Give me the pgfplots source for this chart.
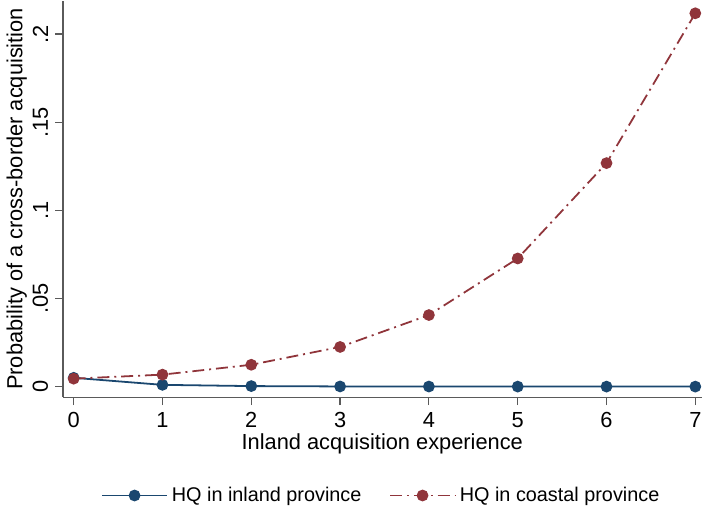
\documentclass[border=0pt]{standalone}
\usepackage{pgfplots}
\pgfplotsset{compat=1.18}
\usepackage{fontspec}
\setmainfont{Liberation Sans}
\definecolor{snavy}{RGB}{26,71,111}
\definecolor{smaroon}{RGB}{144,53,59}
\definecolor{axgray}{RGB}{90,90,90}
\begin{document}
\begin{tikzpicture}
\begin{axis}[
  scale only axis,
  width=322pt, height=200pt,
  xmin=-0.12, xmax=7.07,
  ymin=-0.006, ymax=0.219,
  axis x line*=bottom, axis y line*=left,
  axis line style={axgray, line width=0.6pt},
  tick align=outside,
  major tick length=4pt,
  tick style={axgray, line width=0.6pt},
  xtick={0,1,2,3,4,5,6,7},
  ytick={0,0.05,0.1,0.15,0.2},
  yticklabels={0,.05,.1,.15,.2},
  yticklabel style={rotate=90, anchor=south, font=\fontsize{11}{13}\selectfont},
  xticklabel style={font=\fontsize{11}{13}\selectfont},
  /pgf/number format/assume math mode=true,
  xlabel={Inland acquisition experience},
  ylabel={Probability of a cross-border acquisition},
  xlabel style={font=\fontsize{11}{13}\selectfont, yshift=4pt},
  ylabel style={font=\fontsize{11}{13}\selectfont, yshift=-4pt},
  legend style={at={(0.5,-0.205)}, anchor=north, draw=none, font=\fontsize{10}{12}\selectfont, /tikz/every even column/.append style={column sep=12pt}},
  legend columns=2,
  legend image code/.code={
    \draw[#1, mark=none] (0cm,0cm) -- (1.15cm,0cm);
    \draw[#1, solid] plot coordinates {(0.575cm,0cm)};
  },
]
\addplot[snavy, line width=0.9pt, mark=*, mark size=2.5pt, mark options={solid, fill=snavy}]
coordinates {(0,0.0050) (1,0.0010) (2,0.0003) (3,0.0001) (4,0.00005) (5,0.00002) (6,0.00001) (7,0.000005)};
\addlegendentry{HQ in inland province}
\addplot[smaroon, line width=0.9pt, dash pattern=on 6pt off 2.5pt on 1pt off 2.5pt, mark=*, mark size=2.5pt, mark options={solid, fill=smaroon}]
coordinates {(0,0.0045) (1,0.0068) (2,0.0124) (3,0.0225) (4,0.0406) (5,0.0727) (6,0.1268) (7,0.2118)};
\addlegendentry{HQ in coastal province}
\end{axis}
\end{tikzpicture}
\end{document}
